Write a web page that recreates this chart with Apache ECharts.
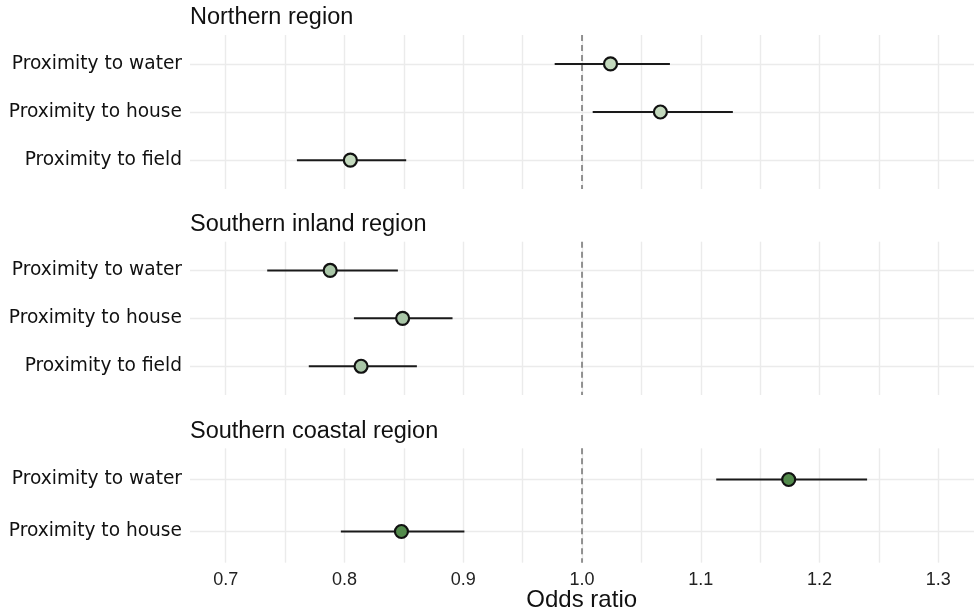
<!DOCTYPE html>
<html>
<head>
<meta charset="utf-8">
<script src="https://cdn.jsdelivr.net/npm/echarts@6/dist/echarts.min.js"></script>
<style>html,body{margin:0;padding:0;background:#fff;}#chart{width:975px;height:612px;}</style>
</head>
<body>
<div id="chart"></div>
<script>
// Data
var panelTitles = ['Northern region', 'Southern inland region', 'Southern coastal region'];
var northCategories = ['Proximity to water', 'Proximity to house', 'Proximity to field'];
var northOR = [1.024, 1.066, 0.805];
var northLo = [0.977, 1.009, 0.760];
var northHi = [1.074, 1.127, 0.852];

var inlandCategories = ['Proximity to water', 'Proximity to house', 'Proximity to field'];
var inlandOR = [0.788, 0.849, 0.814];
var inlandLo = [0.735, 0.808, 0.770];
var inlandHi = [0.845, 0.891, 0.861];

var coastalCategories = ['Proximity to water', 'Proximity to house'];
var coastalOR = [1.174, 0.848];
var coastalLo = [1.113, 0.797];
var coastalHi = [1.240, 0.901];

var xTickLabels = [0.7, 0.8, 0.9, 1.0, 1.1, 1.2, 1.3];
var xGridValues = [0.7, 0.75, 0.8, 0.85, 0.9, 0.95, 1.0, 1.05, 1.1, 1.15, 1.2, 1.25, 1.3];
var referenceOR = 1.0;

var panels = [
  {cats: northCategories, or: northOR, lo: northLo, hi: northHi, color: '#c3d9bd', top: 35, height: 154, titleY: 17.5},
  {cats: inlandCategories, or: inlandOR, lo: inlandLo, hi: inlandHi, color: '#a9c6a7', top: 241.7, height: 153.3, titleY: 224.5},
  {cats: coastalCategories, or: coastalOR, lo: coastalLo, hi: coastalHi, color: '#538b4c', top: 448.3, height: 114.4, titleY: 431.5}
];

var gridColor = '#ebebeb';
var grids = [], xAxes = [], yAxes = [], series = [], graphics = [];

panels.forEach(function (p, i) {
  var n = p.cats.length;
  var idx = p.cats.map(function (c, k) { return k; });
  grids.push({left: 190, width: 784, top: p.top, height: p.height, containLabel: false});
  var isLast = i === panels.length - 1;
  xAxes.push({
    type: 'value', gridIndex: i, min: 0.67, max: 1.33,
    axisLine: {show: false},
    axisTick: {show: false, customValues: xGridValues},
    splitLine: {show: true, lineStyle: {color: gridColor, width: 1.4}},
    axisLabel: {
      show: isLast, customValues: xTickLabels, margin: 8,
      formatter: function (v) { return Number(v).toFixed(1); },
      fontFamily: 'Liberation Sans', fontSize: 18, color: '#222'
    }
  });
  yAxes.push({
    type: 'value', gridIndex: i, inverse: true, min: -0.6, max: n - 0.4,
    axisLine: {show: false},
    axisTick: {show: false, customValues: idx},
    splitLine: {show: true, lineStyle: {color: gridColor, width: 1.4}},
    axisLabel: {
      customValues: idx, margin: 8,
      formatter: (function (cats) { return function (v) { return cats[Math.round(v)]; }; })(p.cats),
      fontFamily: 'DejaVu Sans', fontSize: 18.6, color: '#111'
    }
  });
  // reference dashed line
  series.push({
    type: 'line', xAxisIndex: i, yAxisIndex: i, data: [], silent: true, z: 2,
    markLine: {
      silent: true, symbol: ['none', 'none'], label: {show: false},
      lineStyle: {color: '#7a7a7a', type: [6, 4], width: 1.6},
      data: [{xAxis: referenceOR}]
    }
  });
  // error bars
  series.push({
    type: 'custom', xAxisIndex: i, yAxisIndex: i, z: 3, silent: true,
    data: idx.map(function (k) { return [p.lo[k], p.hi[k], k]; }),
    encode: {x: [0, 1], y: 2},
    renderItem: function (params, api) {
      var a = api.coord([api.value(0), api.value(2)]);
      var b = api.coord([api.value(1), api.value(2)]);
      return {type: 'line', shape: {x1: a[0], y1: a[1], x2: b[0], y2: b[1]},
        style: {stroke: '#1a1a1a', lineWidth: 2}};
    }
  });
  // points
  series.push({
    type: 'scatter', xAxisIndex: i, yAxisIndex: i, z: 4, silent: true,
    symbol: 'circle', symbolSize: 13,
    itemStyle: {color: p.color, borderColor: '#111', borderWidth: 2.2, opacity: 1},
    data: idx.map(function (k) { return [p.or[k], k]; })
  });
  graphics.push({
    type: 'text', x: 190, y: p.titleY,
    style: {text: panelTitles[i], font: '23.5px "Liberation Sans"', fill: '#111', textVerticalAlign: 'middle', textAlign: 'left'}
  });
});

graphics.push({
  type: 'text', x: 581.7, y: 600.5,
  style: {text: 'Odds ratio', font: '24px "Liberation Sans"', fill: '#111', textVerticalAlign: 'middle', textAlign: 'center'}
});

var chart = echarts.init(document.getElementById('chart'), null, {renderer: 'canvas'});
chart.setOption({
  animation: false,
  backgroundColor: '#fff',
  grid: grids,
  xAxis: xAxes,
  yAxis: yAxes,
  series: series,
  graphic: graphics
});
</script>
</body>
</html>
